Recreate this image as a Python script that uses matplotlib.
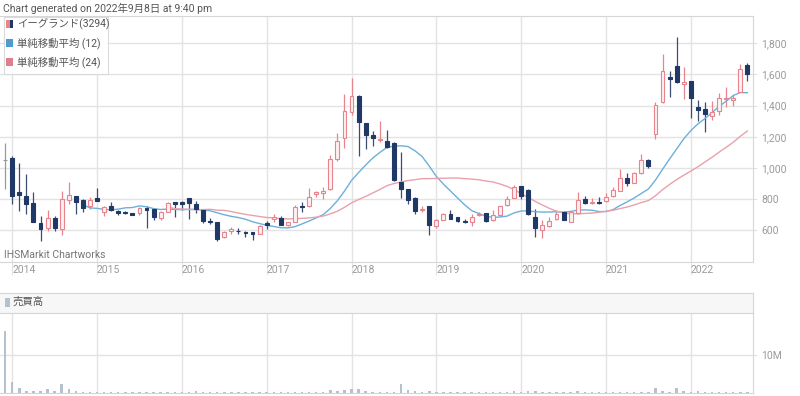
import matplotlib
matplotlib.use("Agg")
import matplotlib.pyplot as plt
import matplotlib.transforms as mtransforms
from matplotlib.patches import Rectangle
import numpy as np
import pandas as pd

plt.rcParams['font.family'] = ['Roboto', 'Noto Sans CJK JP', 'DejaVu Sans']

# monthly candles, Dec 2013 .. Sep 2022 (index 0 = 2013-12)
opens = [1050, 1067, 844, 820, 778, 649, 617, 679, 611, 795, 818, 797,
         754, 808, 718, 758, 726, 720, 709, 709, 743, 739, 677, 720,
         780, 784, 806, 769, 733, 662, 653, 557, 596, 598, 591, 588,
         578, 645, 672, 679, 634, 655, 759, 756, 830, 837, 865, 1057,
         1190, 1360, 1464, 1286, 1213, 1177, 1175, 1160, 911, 864, 808, 731,
         754, 626, 669, 705, 684, 660, 654, 701, 711, 664, 696, 765,
         810, 882, 862, 684, 600, 630, 671, 716, 656, 710, 798, 773,
         781, 786, 820, 855, 934, 906, 966, 1054, 1218, 1422, 1582, 1655,
         1539, 1559, 1390, 1379, 1336, 1366, 1443, 1437, 1488, 1659]
highs = [1160, 1075, 1032, 960, 846, 694, 733, 692, 853, 910, 822, 801,
         812, 874, 758, 782, 733, 724, 712, 750, 758, 743, 724, 780,
         782, 788, 810, 789, 735, 679, 656, 596, 623, 617, 596, 590,
         636, 657, 706, 690, 656, 760, 784, 872, 852, 880, 1082, 1222,
         1473, 1578, 1466, 1290, 1237, 1299, 1241, 1165, 1100, 868, 812, 754,
         756, 675, 714, 733, 686, 671, 705, 718, 714, 729, 759, 823,
         892, 887, 866, 740, 664, 686, 729, 725, 720, 847, 821, 806,
         813, 837, 875, 992, 970, 972, 1090, 1058, 1426, 1732, 1619, 1839,
         1651, 1560, 1437, 1426, 1432, 1480, 1520, 1469, 1666, 1672]
lows = [865, 771, 726, 703, 651, 532, 598, 594, 570, 771, 707, 716,
        739, 786, 690, 726, 698, 707, 698, 700, 613, 668, 668, 716,
        686, 730, 672, 713, 645, 641, 529, 550, 578, 576, 560, 535,
        575, 610, 655, 632, 630, 651, 720, 752, 815, 802, 860, 1042,
        1127, 1342, 1078, 1121, 1142, 1164, 1127, 915, 810, 767, 703, 718,
        570, 617, 665, 670, 656, 645, 628, 694, 656, 660, 692, 759,
        806, 804, 701, 557, 548, 620, 666, 664, 652, 706, 768, 770,
        768, 780, 815, 854, 885, 902, 964, 998, 1184, 1420, 1458, 1548,
        1443, 1319, 1304, 1233, 1308, 1340, 1390, 1398, 1486, 1561]
closes = [1050, 823, 827, 771, 656, 609, 677, 615, 801, 825, 784, 741,
          797, 788, 752, 733, 711, 709, 700, 743, 733, 683, 716, 773,
          767, 770, 773, 735, 662, 653, 545, 589, 609, 594, 586, 578,
          628, 636, 683, 636, 651, 752, 752, 814, 846, 852, 1057, 1175,
          1363, 1460, 1292, 1211, 1190, 1185, 1136, 922, 864, 795, 724, 735,
          632, 666, 705, 673, 658, 656, 686, 705, 658, 699, 754, 804,
          877, 818, 705, 613, 632, 662, 707, 669, 718, 796, 774, 781,
          774, 813, 858, 934, 906, 968, 1049, 1013, 1405, 1619, 1574, 1554,
          1550, 1447, 1373, 1347, 1362, 1447, 1449, 1452, 1636, 1604]
# volume in millions of shares
volume = [16.4, 3.0, 1.3, 0.45, 0.45, 0.45, 1.05, 0.55, 2.3, 1.05, 0.45, 0.35,
          0.35, 0.35, 0.3, 0.25, 0.25, 0.25, 0.2, 0.25, 0.3, 0.25, 0.2, 0.25,
          0.25, 0.3, 0.3, 0.55, 0.3, 0.2, 0.3, 0.25, 0.2, 0.2, 0.2, 0.2,
          0.25, 0.25, 0.2, 0.2, 0.2, 0.3, 0.25, 0.3, 0.25, 0.3, 0.8, 0.5,
          0.9, 1.05, 1.05, 0.4, 0.35, 0.35, 0.3, 0.35, 2.3, 0.8, 0.55, 0.3,
          0.55, 0.25, 0.25, 0.2, 0.2, 0.2, 0.25, 0.2, 0.2, 0.2, 0.25, 0.3,
          0.4, 0.3, 0.45, 0.45, 0.3, 0.25, 0.25, 0.2, 0.25, 0.4, 0.25, 0.2,
          0.25, 0.25, 0.2, 0.3, 0.25, 0.2, 0.3, 0.25, 1.25, 0.6, 0.35, 1.25,
          0.55, 0.35, 0.55, 0.35, 0.35, 0.3, 0.3, 0.3, 0.35, 0.2]
years = ['2014', '2015', '2016', '2017', '2018', '2019', '2020', '2021', '2022']
year_pos = [1, 13, 25, 37, 49, 61, 73, 85, 97]
price_ticks = [600, 800, 1000, 1200, 1400, 1600, 1800]

W, H = 800, 396
UP = '#e8848e'
UPFILL = '#fdf1f2'
DOWN = '#1f3866'
DOWNWICK = '#3c4d72'
GRID = '#e3e3e3'
TXT = '#9a9a9a'

def fr(x0, y0, x1, y1):
    # pixel box (top-left origin) -> figure fraction rect
    return [x0 / W, 1 - y1 / H, (x1 - x0) / W, (y1 - y0) / H]

def px(x, y):
    return x / W, 1 - y / H

fig = plt.figure(figsize=(8, 3.96), dpi=100)
ax = fig.add_axes(fr(0, 16, 753, 262))
axh = fig.add_axes(fr(0, 293, 753, 313))
axv = fig.add_axes(fr(0, 313, 753, 393))

n = len(closes)
idx = np.arange(n)
o = np.array(opens); c = np.array(closes)
hi = np.array(highs); lo = np.array(lows)

for i in range(n):
    if c[i] > o[i]:
        col, face, wick = UP, UPFILL, UP
    elif c[i] < o[i]:
        col, face, wick = DOWN, DOWN, DOWNWICK
    else:
        col, face, wick = '#999999', '#999999', '#999999'
    ax.vlines(i, lo[i], hi[i], color=wick, lw=0.9, zorder=2)
    body = max(abs(c[i] - o[i]), 4)
    ax.bar(i, body, bottom=min(o[i], c[i]), width=0.55, color=face,
           edgecolor=col, lw=0.8, zorder=3)

ma12 = pd.Series(c).rolling(12).mean()
ma24 = pd.Series(c).rolling(24).mean()
ax.plot(idx, ma12, color='#6cb0da', lw=1.0, zorder=2.5)
ax.plot(idx, ma24, color='#e9a1ab', lw=1.0, zorder=2.5)

xl = (-0.73, 105.8)
ax.set_xlim(*xl)
ax.set_ylim(397, 1975)
ax.set_yticks(price_ticks)
ax.set_yticklabels([f'{v:,}' for v in price_ticks])
ax.yaxis.tick_right()
ax.set_xticks(year_pos)
ax.set_xticklabels(years)
off = mtransforms.ScaledTranslation(3 / 72, 0, fig.dpi_scale_trans)
for lab in ax.get_xticklabels():
    lab.set_horizontalalignment('left')
    lab.set_transform(lab.get_transform() + off)
ax.tick_params(axis='x', length=9, color=GRID, labelsize=7.5, labelcolor=TXT, pad=-7)
ax.tick_params(axis='y', length=3, color=GRID, labelsize=7.5, labelcolor=TXT, pad=3)
ax.grid(True, color=GRID, lw=1)
ax.set_axisbelow(True)
ax.spines['left'].set_visible(False)
for s in ['top', 'bottom', 'right']:
    ax.spines[s].set_color('#d6d6d6')

# volume panel
axv.bar(idx, volume, width=0.35, color='#b5c2cc', zorder=3)
axv.set_xlim(*xl)
axv.set_ylim(0, 21)
axv.set_yticks([10])
axv.set_yticklabels(['10M'])
axv.yaxis.tick_right()
axv.set_xticks(year_pos)
axv.set_xticklabels([])
axv.tick_params(axis='x', length=0)
axv.tick_params(axis='y', length=3, color=GRID, labelsize=7.5, labelcolor=TXT, pad=3)
axv.grid(True, color=GRID, lw=1)
axv.set_axisbelow(True)
axv.spines['left'].set_visible(False)
for s in ['top', 'bottom', 'right']:
    axv.spines[s].set_color('#d6d6d6')

axh.set_facecolor('#f7f7f7')
axh.set_xticks([]); axh.set_yticks([])
axh.spines['left'].set_visible(False)
for s in ['top', 'bottom', 'right']:
    axh.spines[s].set_color('#d6d6d6')

# header texts and legends
fig.text(*px(3, 8), 'Chart generated on 2022年9月8日 at 9:40 pm', fontsize=7.5,
         color='#555555', va='center')
fig.text(*px(4, 255), 'IHSMarkit Chartworks', fontsize=7.5, color='#777777', va='center')
fig.patches.append(Rectangle(px(4, 74), 104 / W, 57 / H, transform=fig.transFigure,
                             facecolor='white', edgecolor='#d8d8d8', lw=0.8, alpha=0.9,
                             zorder=5))
legend_rows = [('イーグランド(3294)', None), ('単純移動平均 (12)', '#4f9ccc'),
               ('単純移動平均 (24)', '#e07f8c')]
for k, (label, colr) in enumerate(legend_rows):
    yc = 24 + k * 19
    if colr is None:
        fig.patches.append(Rectangle(px(6, yc + 4), 3.5 / W, 8 / H, transform=fig.transFigure,
                                     facecolor=UP, lw=0, zorder=6))
        fig.patches.append(Rectangle(px(9.5, yc + 4), 3.5 / W, 8 / H, transform=fig.transFigure,
                                     facecolor=DOWN, lw=0, zorder=6))
    else:
        fig.patches.append(Rectangle(px(6, yc + 4), 7 / W, 8 / H, transform=fig.transFigure,
                                     facecolor=colr, lw=0, zorder=6))
    fig.text(*px(17, yc), label, fontsize=7.5, color='#555555', va='center', zorder=7)

fig.patches.append(Rectangle(px(5, 307), 5 / W, 9 / H, transform=fig.transFigure,
                             facecolor='#b5c2cc', lw=0, zorder=6))
fig.text(*px(13, 302), '売買高', fontsize=7.5, color='#555555', va='center', zorder=7)

fig.savefig('out.png', dpi=100)
